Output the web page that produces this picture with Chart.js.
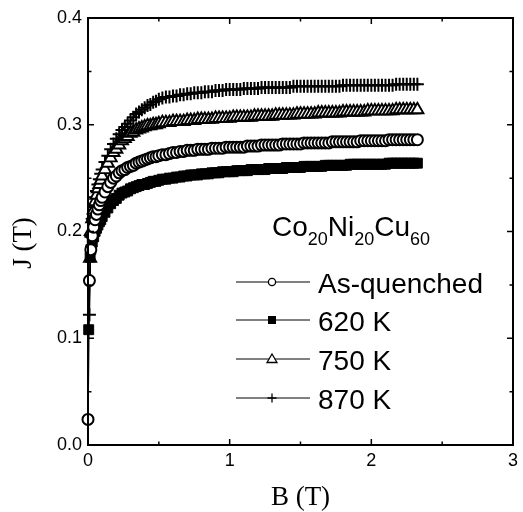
<!DOCTYPE html>
<html>
<head>
<meta charset="utf-8">
<title>J vs B, Co20Ni20Cu60</title>
<script src="https://cdn.jsdelivr.net/npm/chart.js@4/dist/chart.umd.min.js"></script>
<style>
  html, body { margin: 0; padding: 0; background: #fff; }
  #wrap { width: 523px; height: 512px; }
</style>
</head>
<body>
<div id="wrap"><canvas id="c" width="523" height="512"></canvas></div>
<script>
// Applied field B (T), shared by all four samples
const bField = [
  0, 0.005, 0.01, 0.015, 0.02, 0.03, 0.04, 0.05,
  0.06, 0.07, 0.08, 0.09, 0.10, 0.12, 0.14, 0.16,
  0.18, 0.20, 0.22, 0.24, 0.26, 0.28, 0.30, 0.32,
  0.34, 0.36, 0.38, 0.40, 0.42, 0.44, 0.46, 0.48,
  0.50,
  0.525, 0.55, 0.575, 0.60, 0.625, 0.65, 0.675, 0.70,
  0.725, 0.75, 0.775, 0.80, 0.825, 0.85, 0.875, 0.90,
  0.925, 0.95, 0.975, 1.00, 1.025, 1.05, 1.075, 1.10,
  1.125, 1.15, 1.175, 1.20, 1.225, 1.25, 1.275, 1.30,
  1.325, 1.35, 1.375, 1.40, 1.425, 1.45, 1.475, 1.50,
  1.525, 1.55, 1.575, 1.60, 1.625, 1.65, 1.675, 1.70,
  1.725, 1.75, 1.775, 1.80, 1.825, 1.85, 1.875, 1.90,
  1.925, 1.95, 1.975, 2.00, 2.025, 2.05, 2.075, 2.10,
  2.125, 2.15, 2.175, 2.20, 2.225, 2.25, 2.275, 2.30, 2.325
];

// Polarisation J (T) for each annealing state (null = no measurement at that field)
const jAsQuenched = [
  0.024, null, 0.154, null, 0.183, 0.196, 0.204, 0.211,
  0.216, 0.221, 0.225, 0.229, 0.232, 0.237, 0.242, 0.246,
  0.250, 0.252, 0.255, 0.257, 0.258, 0.260, 0.261, 0.262,
  0.264, 0.265, 0.266, 0.267, 0.268, 0.269, 0.270, 0.270,
  0.271,
  0.272, 0.272, 0.273, 0.274, 0.274, 0.275, 0.275, 0.276,
  0.276, 0.276, 0.277, 0.277, 0.277, 0.277, 0.278, 0.278,
  0.278, 0.278, 0.279, 0.279, 0.279, 0.279, 0.279, 0.279,
  0.280, 0.280, 0.280, 0.280, 0.281, 0.281, 0.281, 0.281,
  0.281, 0.281, 0.282, 0.282, 0.282, 0.282, 0.282, 0.282,
  0.283, 0.283, 0.283, 0.283, 0.283, 0.283, 0.283, 0.283,
  0.284, 0.284, 0.284, 0.284, 0.284, 0.284, 0.284, 0.284,
  0.285, 0.285, 0.285, 0.285, 0.285, 0.285, 0.285, 0.285,
  0.286, 0.286, 0.286, 0.286, 0.286, 0.286, 0.286, 0.286, 0.286
];
const j620K = [
  null, 0.108, null, 0.176, 0.183, 0.190, 0.195, 0.200,
  0.203, 0.206, 0.209, 0.211, 0.214, 0.218, 0.222, 0.226,
  0.229, 0.231, 0.234, 0.236, 0.237, 0.238, 0.240, 0.241,
  0.242, 0.243, 0.244, 0.244, 0.245, 0.246, 0.247, 0.247,
  0.248,
  0.249, 0.249, 0.250, 0.250, 0.251, 0.251, 0.252, 0.252,
  0.253, 0.253, 0.253, 0.254, 0.254, 0.254, 0.255, 0.255,
  0.255, 0.256, 0.256, 0.256, 0.256, 0.257, 0.257, 0.257,
  0.257, 0.258, 0.258, 0.258, 0.258, 0.258, 0.259, 0.259,
  0.259, 0.259, 0.259, 0.260, 0.260, 0.260, 0.260, 0.260,
  0.261, 0.261, 0.261, 0.261, 0.261, 0.261, 0.262, 0.262,
  0.262, 0.262, 0.262, 0.262, 0.262, 0.263, 0.263, 0.263,
  0.263, 0.263, 0.263, 0.263, 0.263, 0.263, 0.263, 0.263,
  0.264, 0.264, 0.264, 0.264, 0.264, 0.264, 0.264, 0.264, 0.264
];
const j750K = [
  null, null, null, 0.175, 0.200, 0.212, 0.220, 0.228,
  0.234, 0.240, 0.244, 0.248, 0.252, 0.258, 0.264, 0.269,
  0.274, 0.277, 0.281, 0.285, 0.287, 0.289, 0.292, 0.293,
  0.295, 0.296, 0.297, 0.298, 0.299, 0.299, 0.300, 0.300,
  0.301,
  0.302, 0.302, 0.302, 0.303, 0.303, 0.303, 0.303, 0.304,
  0.304, 0.304, 0.305, 0.305, 0.305, 0.305, 0.305, 0.306,
  0.306, 0.306, 0.306, 0.306, 0.307, 0.307, 0.307, 0.307,
  0.307, 0.307, 0.308, 0.308, 0.308, 0.308, 0.308, 0.308,
  0.309, 0.309, 0.309, 0.309, 0.309, 0.309, 0.310, 0.310,
  0.310, 0.310, 0.310, 0.310, 0.311, 0.311, 0.311, 0.311,
  0.311, 0.311, 0.311, 0.312, 0.312, 0.312, 0.312, 0.312,
  0.312, 0.312, 0.313, 0.313, 0.313, 0.313, 0.313, 0.313,
  0.313, 0.313, 0.314, 0.314, 0.314, 0.314, 0.314, 0.314, 0.314
];
const j870K = [
  null, null, 0.122, null, 0.195, 0.212, 0.223, 0.232,
  0.238, 0.244, 0.249, 0.254, 0.258, 0.265, 0.271, 0.277,
  0.282, 0.287, 0.291, 0.295, 0.298, 0.301, 0.304, 0.307,
  0.310, 0.312, 0.314, 0.316, 0.318, 0.319, 0.321, 0.322,
  0.324,
  0.325, 0.326, 0.326, 0.327, 0.327, 0.328, 0.328, 0.329,
  0.329, 0.330, 0.330, 0.330, 0.331, 0.331, 0.331, 0.332,
  0.332, 0.332, 0.333, 0.333, 0.333, 0.333, 0.333, 0.334,
  0.334, 0.334, 0.334, 0.334, 0.335, 0.335, 0.335, 0.335,
  0.335, 0.335, 0.335, 0.335, 0.335, 0.336, 0.336, 0.336,
  0.336, 0.336, 0.336, 0.336, 0.336, 0.336, 0.336, 0.336,
  0.336, 0.336, 0.336, 0.337, 0.337, 0.337, 0.337, 0.337,
  0.337, 0.337, 0.337, 0.337, 0.337, 0.337, 0.337, 0.337,
  0.337, 0.337, 0.338, 0.338, 0.338, 0.338, 0.338, 0.338, 0.338
];

const seriesNames = ['As-quenched', '620 K', '750 K', '870 K'];

// Axis ticks
const xMajorTicks = [0, 1, 2, 3];
const xMinorTicks = [0.5, 1.5, 2.5];
const yMajorTicks = [0.0, 0.1, 0.2, 0.3, 0.4];
const yMinorTicks = [0.05, 0.15, 0.25, 0.35];

const SANS = "'Liberation Sans', Arial, Helvetica, sans-serif";
const SERIF = "'Liberation Serif', 'Times New Roman', Times, serif";

function toPoints(values) {
  const pts = [];
  values.forEach((v, i) => { if (v !== null) pts.push({ x: bField[i], y: v }); });
  return pts;
}

const markerStyles = [
  { pointStyle: 'circle',   pointRadius: 5.5, pointBackgroundColor: '#fff', pointBorderWidth: 2 },
  { pointStyle: 'rect',     pointRadius: 7,   pointBackgroundColor: '#000', pointBorderWidth: 1 },
  { pointStyle: 'triangle', pointRadius: 7,   pointBackgroundColor: '#fff', pointBorderWidth: 1.9 },
  { pointStyle: 'cross',    pointRadius: 6.5, pointBackgroundColor: '#000', pointBorderWidth: 2 }
];

const datasets = [jAsQuenched, j620K, j750K, j870K].map((vals, i) => Object.assign({
  label: seriesNames[i],
  data: toPoints(vals),
  borderColor: '#000',
  borderWidth: 1.4,
  pointBorderColor: '#000',
  pointHoverRadius: 0,
  showLine: true,
  tension: 0,
  clip: false
}, markerStyles[i]));

// Closed frame with inward tick marks on all four sides
const frameTicks = {
  id: 'frameTicks',
  afterDatasetsDraw(chart) {
    const { ctx, chartArea: a, scales: { x, y } } = chart;
    ctx.save();
    ctx.strokeStyle = '#000';
    ctx.lineWidth = 2;
    ctx.strokeRect(a.left, a.top, a.right - a.left, a.bottom - a.top);
    ctx.lineWidth = 1.5;
    ctx.beginPath();
    const xt = (v, len) => {
      const px = x.getPixelForValue(v);
      ctx.moveTo(px, a.bottom); ctx.lineTo(px, a.bottom - len);
      ctx.moveTo(px, a.top); ctx.lineTo(px, a.top + len);
    };
    const yt = (v, len) => {
      const py = y.getPixelForValue(v);
      ctx.moveTo(a.left, py); ctx.lineTo(a.left + len, py);
      ctx.moveTo(a.right, py); ctx.lineTo(a.right - len, py);
    };
    xMajorTicks.forEach(v => xt(v, 6));
    xMinorTicks.forEach(v => xt(v, 3.5));
    yMajorTicks.forEach(v => yt(v, 6));
    yMinorTicks.forEach(v => yt(v, 3.5));
    ctx.stroke();
    ctx.restore();
  }
};

// Axis titles
const axisTitles = {
  id: 'axisTitles',
  afterDraw(chart) {
    const { ctx, chartArea: a } = chart;
    ctx.save();
    ctx.fillStyle = '#000';
    ctx.font = '27px ' + SERIF;
    ctx.textAlign = 'center';
    ctx.textBaseline = 'alphabetic';
    ctx.fillText('B (T)', (a.left + a.right) / 2, 505);
    ctx.translate(31, 243);
    ctx.rotate(-Math.PI / 2);
    ctx.fillText('J (T)', 0, 0);
    ctx.restore();
  }
};

// In-plot legend with composition label
const inPlotLegend = {
  id: 'inPlotLegend',
  afterDraw(chart) {
    const { ctx } = chart;
    ctx.save();
    ctx.fillStyle = '#000';
    ctx.strokeStyle = '#000';
    ctx.textBaseline = 'alphabetic';
    ctx.textAlign = 'left';

    // Co20Ni20Cu60
    const parts = [['Co', false], ['20', true], ['Ni', false], ['20', true], ['Cu', false], ['60', true]];
    let tx = 272;
    parts.forEach(([t, sub]) => {
      ctx.font = (sub ? '18px ' : '28px ') + SANS;
      ctx.fillText(t, tx, sub ? 245 : 236);
      tx += ctx.measureText(t).width;
    });

    const rows = [282, 320, 359, 398];
    const x0 = 236, x1 = 310, xm = 272;
    rows.forEach((ry, i) => {
      ctx.lineWidth = 1;
      ctx.beginPath();
      ctx.moveTo(x0, ry); ctx.lineTo(x1, ry);
      ctx.stroke();
      ctx.lineWidth = 1.3;
      ctx.beginPath();
      if (i === 0) {
        ctx.arc(xm, ry, 3.6, 0, Math.PI * 2);
        ctx.fillStyle = '#fff'; ctx.fill(); ctx.stroke();
      } else if (i === 1) {
        ctx.fillStyle = '#000';
        ctx.fillRect(xm - 4, ry - 4, 8, 8);
      } else if (i === 2) {
        ctx.moveTo(xm, ry - 5); ctx.lineTo(xm + 5, ry + 3.5); ctx.lineTo(xm - 5, ry + 3.5); ctx.closePath();
        ctx.fillStyle = '#fff'; ctx.fill(); ctx.stroke();
      } else {
        ctx.moveTo(xm - 4.5, ry); ctx.lineTo(xm + 4.5, ry);
        ctx.moveTo(xm, ry - 4.5); ctx.lineTo(xm, ry + 4.5);
        ctx.stroke();
      }
      ctx.fillStyle = '#000';
      ctx.font = '28px ' + SANS;
      ctx.fillText(seriesNames[i], 318, ry + 10.5);
    });
    ctx.restore();
  }
};

new Chart(document.getElementById('c'), {
  type: 'scatter',
  data: { datasets },
  options: {
    responsive: false,
    animation: false,
    events: [],
    layout: { padding: { left: 0, right: 5, top: 18, bottom: 0 } },
    plugins: { legend: { display: false }, tooltip: { enabled: false } },
    scales: {
      x: {
        type: 'linear', min: 0, max: 3,
        afterBuildTicks(scale) { scale.ticks = xMajorTicks.map(v => ({ value: v })); },
        afterFit(scale) { scale.height = 67; },
        grid: { display: false, drawTicks: false },
        border: { display: false },
        ticks: { padding: 5, color: '#000', font: { size: 18, family: SANS }, maxRotation: 0,
                 callback: v => String(v) }
      },
      y: {
        type: 'linear', min: 0, max: 0.4,
        afterBuildTicks(scale) { scale.ticks = yMajorTicks.map(v => ({ value: v })); },
        afterFit(scale) { scale.width = 88; },
        grid: { display: false, drawTicks: false },
        border: { display: false },
        ticks: { padding: 6, color: '#000', font: { size: 18, family: SANS },
                 callback: v => Number(v).toFixed(1) }
      }
    }
  },
  plugins: [frameTicks, axisTitles, inPlotLegend]
});
</script>
</body>
</html>
